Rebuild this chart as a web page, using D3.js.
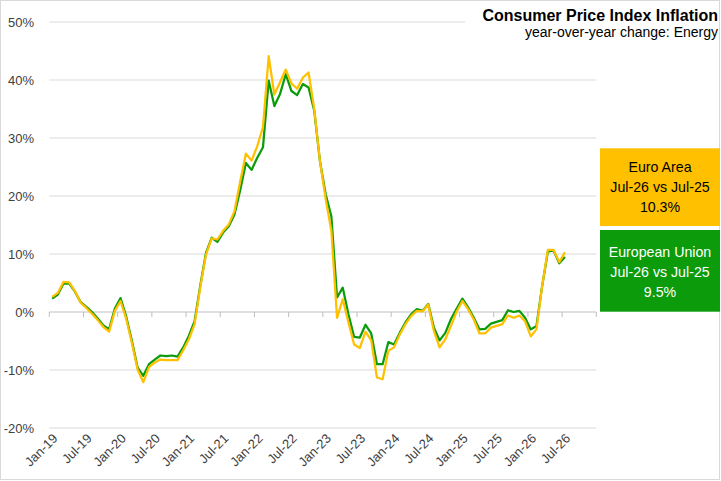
<!DOCTYPE html>
<html>
<head>
<meta charset="utf-8">
<script src="https://cdn.jsdelivr.net/npm/d3@7"></script>
<style>
  html, body { margin: 0; padding: 0; background: #fff; }
  svg { display: block; font-family: "Liberation Sans", Arial, sans-serif; }
</style>
</head>
<body>
<svg id="chart" width="721" height="481"></svg>
<script>
// ---- data ----
const months = [
  "Jan-19","Feb-19","Mar-19","Apr-19","May-19","Jun-19","Jul-19","Aug-19","Sep-19","Oct-19","Nov-19","Dec-19",
  "Jan-20","Feb-20","Mar-20","Apr-20","May-20","Jun-20","Jul-20","Aug-20","Sep-20","Oct-20","Nov-20","Dec-20",
  "Jan-21","Feb-21","Mar-21","Apr-21","May-21","Jun-21","Jul-21","Aug-21","Sep-21","Oct-21","Nov-21","Dec-21",
  "Jan-22","Feb-22","Mar-22","Apr-22","May-22","Jun-22","Jul-22","Aug-22","Sep-22","Oct-22","Nov-22","Dec-22",
  "Jan-23","Feb-23","Mar-23","Apr-23","May-23","Jun-23","Jul-23","Aug-23","Sep-23","Oct-23","Nov-23","Dec-23",
  "Jan-24","Feb-24","Mar-24","Apr-24","May-24","Jun-24","Jul-24","Aug-24","Sep-24","Oct-24","Nov-24","Dec-24",
  "Jan-25","Feb-25","Mar-25","Apr-25","May-25","Jun-25","Jul-25","Aug-25","Sep-25","Oct-25","Nov-25","Dec-25",
  "Jan-26","Feb-26","Mar-26","Apr-26","May-26","Jun-26","Jul-26","Aug-26","Sep-26","Oct-26","Nov-26","Dec-26"
];
const euroArea = [
  2.6, 3.3, 5.2, 5.1, 3.6, 1.6, 0.7, -0.3, -1.4, -2.6, -3.4, 0.2,
  1.9, -1.2, -5.4, -9.9, -12.1, -9.5, -8.7, -8.2, -8.3, -8.3, -8.3, -6.6,
  -4.7, -2.1, 4.3, 9.9, 12.7, 12.5, 14.0, 15.1, 17.4, 22.5, 27.3, 26.1,
  28.6, 31.9, 44.1, 37.5, 39.6, 41.8, 39.4, 38.5, 40.4, 41.3, 35.0, 26.0,
  19.5, 14.0, -1.0, 2.2, -1.8, -5.6, -6.2, -3.4, -4.9, -11.3, -11.6, -6.7,
  -6.1, -3.9, -2.1, -0.7, 0.2, 0.1, 1.3, -3.3, -6.1, -4.7, -2.4, 0.1,
  1.9, 0.5, -1.3, -3.7, -3.7, -2.7, -2.4, -2.1, -0.6, -1.0, -0.6, -1.6,
  -4.2, -3.0, 4.5, 10.7, 10.7, 8.6, 10.3
];
const europeanUnion = [
  2.3, 3.0, 4.9, 4.9, 3.5, 1.7, 0.9, 0.0, -1.1, -2.3, -3.0, 0.6,
  2.4, -0.8, -5.0, -9.6, -11.0, -9.0, -8.2, -7.5, -7.6, -7.5, -7.7, -6.1,
  -4.1, -1.6, 4.6, 10.2, 12.8, 12.1, 13.7, 14.8, 16.8, 21.0, 25.7, 24.5,
  26.6, 28.4, 39.9, 35.5, 37.6, 41.0, 38.1, 37.4, 39.3, 38.7, 34.7, 26.0,
  20.3, 16.5, 2.5, 4.2, -0.4, -4.3, -4.4, -2.2, -3.7, -9.0, -9.0, -5.2,
  -5.6, -3.6, -1.8, -0.4, 0.5, 0.2, 1.4, -2.7, -4.9, -3.6, -1.2, 0.6,
  2.3, 0.8, -1.0, -3.0, -2.9, -2.0, -1.7, -1.4, 0.3, 0.0, 0.2, -1.0,
  -3.0, -2.4, 4.5, 10.4, 10.6, 8.4, 9.5
];
const yTicks = [-20, -10, 0, 10, 20, 30, 40, 50];
const xTickLabels = ["Jan-19","Jul-19","Jan-20","Jul-20","Jan-21","Jul-21","Jan-22","Jul-22",
                     "Jan-23","Jul-23","Jan-24","Jul-24","Jan-25","Jul-25","Jan-26","Jul-26"];
const titleText = "Consumer Price Index Inflation";
const subtitleText = "year-over-year change: Energy";
const boxEA = ["Euro Area", "Jul-26 vs Jul-25", "10.3%"];
const boxEU = ["European Union", "Jul-26 vs Jul-25", "9.5%"];

// ---- layout ----
const colEA = "#FFC000", colEU = "#0B9B0B";
const plot = { left: 49.3, right: 596.3, top: 22, bottom: 428 };
const svg = d3.select("#chart");

// outer border
svg.append("rect").attr("x", 0.5).attr("y", 0.5).attr("width", 719).attr("height", 479)
  .attr("fill", "#fff").attr("stroke", "#d9d9d9");

const x = d3.scaleBand().domain(months).range([plot.left, plot.right]).paddingInner(0).paddingOuter(0);
const y = d3.scaleLinear().domain([-20, 50]).range([plot.bottom, plot.top]);
const cx = m => x(m) + x.bandwidth() / 2;

// gridlines
svg.append("g").selectAll("line").data(yTicks.filter(v => v !== 0)).join("line")
  .attr("x1", plot.left).attr("x2", plot.right)
  .attr("y1", d => y(d)).attr("y2", d => y(d))
  .attr("stroke", "#d9d9d9").attr("stroke-width", 1);

// y labels
svg.append("g").selectAll("text").data(yTicks).join("text")
  .attr("x", 34).attr("y", d => y(d)).attr("dy", "0.35em")
  .attr("text-anchor", "end").attr("font-size", 13).attr("fill", "#404040")
  .text(d => d + "%");

// x axis line at 0 with ticks every 6 months
const xAxisG = svg.append("g");
xAxisG.append("line").attr("x1", plot.left).attr("x2", plot.right)
  .attr("y1", y(0)).attr("y2", y(0)).attr("stroke", "#bfbfbf").attr("stroke-width", 1);
const tickPos = months.filter((m, i) => i % 6 === 0).map(m => x(m)).concat([plot.right]);
xAxisG.selectAll("line.tick").data(tickPos).join("line").attr("class", "tick")
  .attr("x1", d => d).attr("x2", d => d)
  .attr("y1", y(0)).attr("y2", y(0) + 5).attr("stroke", "#bfbfbf");

// x labels
svg.append("g").selectAll("text").data(xTickLabels).join("text")
  .attr("transform", d => `translate(${cx(d) + 3},${436}) rotate(-45)`)
  .attr("dy", "0.35em").attr("text-anchor", "end")
  .attr("font-size", 13).attr("fill", "#404040")
  .text(d => d);

// lines
const line = d3.line().x((d, i) => cx(months[i])).y(d => y(d));
svg.append("path").datum(europeanUnion).attr("d", line)
  .attr("fill", "none").attr("stroke", colEU).attr("stroke-width", 2.25).attr("stroke-linejoin", "round");
svg.append("path").datum(euroArea).attr("d", line)
  .attr("fill", "none").attr("stroke", colEA).attr("stroke-width", 2.25).attr("stroke-linejoin", "round");

// title
svg.append("rect").attr("x", 465).attr("y", 3).attr("width", 254).attr("height", 40).attr("fill", "#fff");
svg.append("text").attr("x", 718).attr("y", 20.5).attr("text-anchor", "end")
  .attr("font-size", 16).attr("font-weight", "bold").attr("fill", "#000").text(titleText);
svg.append("text").attr("x", 718).attr("y", 36.5).attr("text-anchor", "end")
  .attr("font-size", 14).attr("fill", "#000").text(subtitleText);

// boxes
function box(y0, h, fill, textColor, lines, centers) {
  svg.append("rect").attr("x", 600).attr("y", y0).attr("width", 120).attr("height", h).attr("fill", fill);
  svg.append("g").selectAll("text").data(lines).join("text")
    .attr("x", 660).attr("y", (d, i) => centers[i]).attr("dy", "0.35em")
    .attr("text-anchor", "middle").attr("font-size", 14.2).attr("fill", textColor)
    .text(d => d);
}
box(148.3, 77.7, colEA, "#000", boxEA, [166.7, 187.3, 207.3]);
box(230, 81.7, colEU, "#fff", boxEU, [251.7, 271.7, 291.7]);
</script>
</body>
</html>
